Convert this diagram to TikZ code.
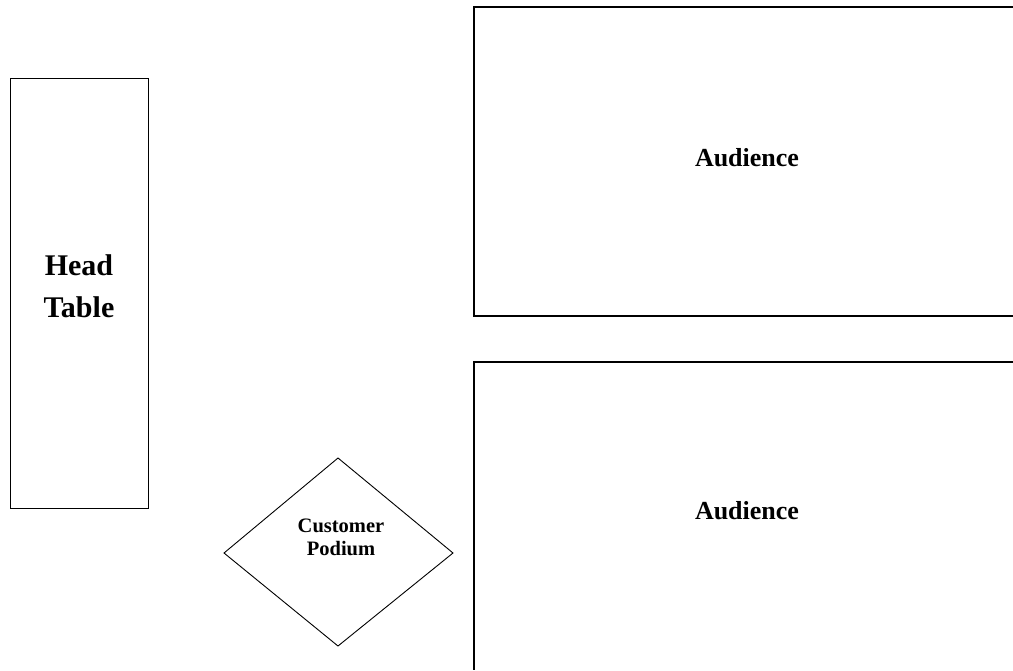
\documentclass[tikz,border=0pt]{standalone}
\usepackage{fontspec}
\setmainfont{Liberation Serif}
\begin{document}
\begin{tikzpicture}[x=1pt,y=-1pt,
  outline/.style={draw=black,line width=1.2pt},
  thin outline/.style={draw=black,line width=0.9pt},
  lbl/.style={font=\bfseries,text=black,inner sep=0pt,align=center}]
\useasboundingbox[fill=white] (0,0) rectangle (1013,670);
% Head table
\node[thin outline,minimum width=138pt,minimum height=430pt,inner sep=0pt] (head) at (79,293) {};
\node[lbl,font=\fontsize{30}{42}\selectfont\bfseries] (headlbl) at (79,286) {Head\\Table};
% upper audience
\coordinate (ua1) at (1013,7);
\coordinate (ua2) at (474,7);
\coordinate (ua3) at (474,316);
\coordinate (ua4) at (1013,316);
\draw[outline] (ua1) -- (ua2) -- (ua3) -- (ua4);
\node[lbl,font=\fontsize{26}{30}\selectfont\bfseries] (aud1) at (747,158) {Audience};
% lower audience
\coordinate (la1) at (1013,362);
\coordinate (la2) at (474,362);
\coordinate (la3) at (474,670);
\draw[outline] (la1) -- (la2) -- (la3);
\node[lbl,font=\fontsize{26}{30}\selectfont\bfseries] (aud2) at (747,511) {Audience};
% podium
\coordinate (pt) at (338,458);
\coordinate (pl) at (224,553);
\coordinate (pb) at (338,646);
\coordinate (pr) at (453,553);
\draw[thin outline,line join=miter] (pt) -- (pr) -- (pb) -- (pl) -- cycle;
\node[lbl,font=\fontsize{20.5}{23}\selectfont\bfseries] (pod) at (341,537) {Customer\\Podium};
\end{tikzpicture}
\end{document}
